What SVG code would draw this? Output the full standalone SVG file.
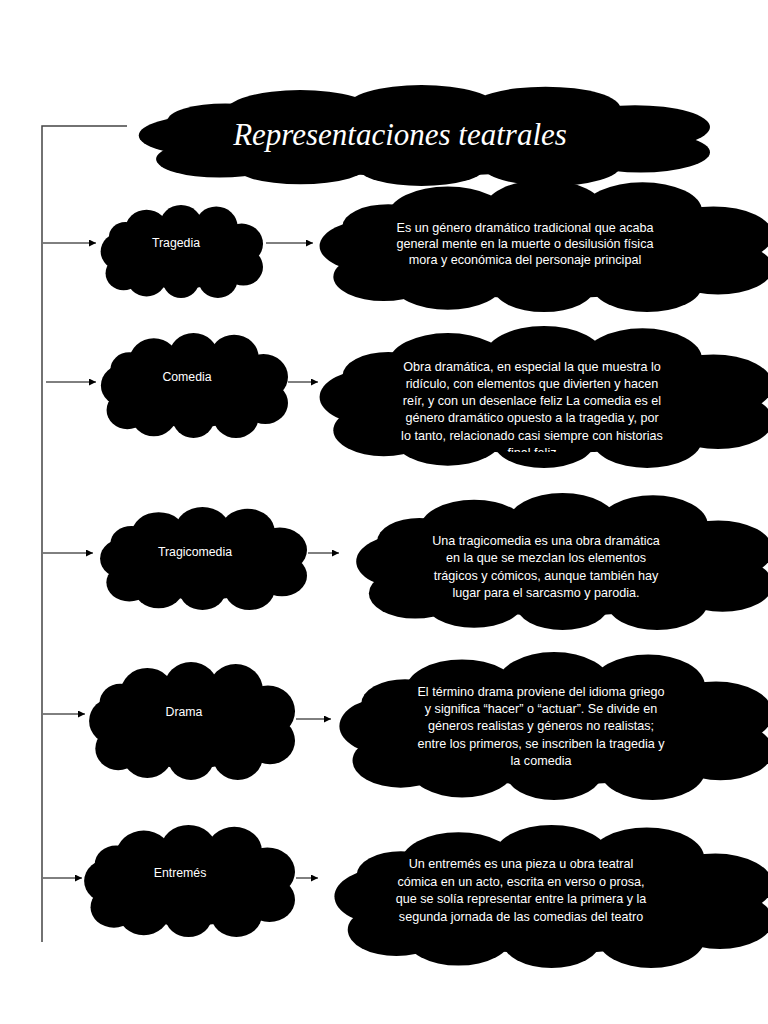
<svg xmlns="http://www.w3.org/2000/svg" xmlns:xlink="http://www.w3.org/1999/xlink" width="768" height="1024" viewBox="0 0 768 1024">
<style>
.lbl{font-family:"Liberation Sans",Arial,sans-serif;font-size:12.3px;fill:#fff;text-anchor:middle}
.desc{font-family:"Liberation Sans",Arial,sans-serif;font-size:12.6px;fill:#fff;text-anchor:middle}
.title{font-family:"Liberation Serif","DejaVu Serif",serif;font-style:italic;font-size:31px;fill:#fff;text-anchor:middle}
.conn line{stroke:#000;stroke-width:1}
.trunk{stroke:#444;stroke-width:1.5;fill:none}
</style>
<defs>
<symbol id="cloud" viewBox="0 0 200 120" preserveAspectRatio="none">
<g fill="#000">
<ellipse cx="100" cy="62" rx="84" ry="46"/>
<circle cx="58" cy="32" r="26"/>
<circle cx="100" cy="26" r="26"/>
<circle cx="143" cy="28" r="26"/>
<circle cx="174" cy="50" r="26"/>
<circle cx="176" cy="80" r="24"/>
<circle cx="145" cy="96" r="24"/>
<circle cx="100" cy="98" r="22"/>
<circle cx="58" cy="94" r="24"/>
<circle cx="26" cy="60" r="24"/>
<circle cx="30" cy="88" r="22"/>
<circle cx="32" cy="42" r="20"/>
</g>
</symbol>
<marker id="ah" viewBox="0 0 10 10" refX="10" refY="5" markerWidth="7" markerHeight="7" markerUnits="userSpaceOnUse" orient="auto">
<path d="M0,0 L10,5 L0,10 z" fill="#000"/>
</marker>
<clipPath id="clipC"><rect x="300" y="320" width="468" height="132"/></clipPath>
</defs>
<rect width="768" height="1024" fill="#fff"/>

<g id="connectors" class="conn">
<path class="trunk" d="M127,126 H42 V942"/>
<line x1="43" y1="243" x2="96" y2="243" marker-end="url(#ah)"/>
<line x1="266" y1="243" x2="313" y2="243" marker-end="url(#ah)"/>
<line x1="46" y1="382" x2="96" y2="382" marker-end="url(#ah)"/>
<line x1="288" y1="382" x2="318" y2="382" marker-end="url(#ah)"/>
<line x1="43" y1="553" x2="93" y2="553" marker-end="url(#ah)"/>
<line x1="308" y1="553" x2="339" y2="553" marker-end="url(#ah)"/>
<line x1="43" y1="714" x2="85" y2="714" marker-end="url(#ah)"/>
<line x1="296" y1="719" x2="331" y2="719" marker-end="url(#ah)"/>
<line x1="43" y1="878" x2="82" y2="878" marker-end="url(#ah)"/>
<line x1="296" y1="878" x2="318" y2="878" marker-end="url(#ah)"/>
</g>

<g id="title">
<use xlink:href="#cloud" href="#cloud" x="133" y="85" width="577" height="101"/>
<text class="title" x="400" y="145">Representaciones teatrales</text>
</g>

<g id="tragedia">
<use xlink:href="#cloud" href="#cloud" x="99" y="205" width="164" height="93"/>
<text class="lbl" x="176" y="247">Tragedia</text>
</g>
<g id="tragedia-desc">
<use xlink:href="#cloud" href="#cloud" x="315" y="180" width="458" height="132"/>
<text class="desc" x="525" y="232">Es un género dramático tradicional que acaba</text>
<text class="desc" x="525" y="248">general mente en la muerte o desilusión física</text>
<text class="desc" x="525" y="264">mora y económica del personaje principal</text>
</g>

<g id="comedia">
<use xlink:href="#cloud" href="#cloud" x="99" y="333" width="189" height="105"/>
<text class="lbl" x="187" y="381">Comedia</text>
</g>
<g id="comedia-desc">
<use xlink:href="#cloud" href="#cloud" x="315" y="326" width="458" height="142"/>
<text class="desc" x="532" y="371">Obra dramática, en especial la que muestra lo</text>
<text class="desc" x="532" y="388">ridículo, con elementos que divierten y hacen</text>
<text class="desc" x="532" y="405">reír, y con un desenlace feliz La comedia  es el</text>
<text class="desc" x="532" y="422">género dramático opuesto a la tragedia y, por</text>
<text class="desc" x="532" y="440">lo tanto, relacionado casi siempre con historias</text>
<text class="desc" x="532" y="457" clip-path="url(#clipC)">final feliz</text>
</g>

<g id="tragicomedia">
<use xlink:href="#cloud" href="#cloud" x="98" y="507" width="209" height="103"/>
<text class="lbl" x="195" y="556">Tragicomedia</text>
</g>
<g id="tragicomedia-desc">
<use xlink:href="#cloud" href="#cloud" x="352" y="493" width="421" height="137"/>
<text class="desc" x="546" y="545">Una tragicomedia es una obra dramática</text>
<text class="desc" x="546" y="562">en la que se mezclan los elementos</text>
<text class="desc" x="546" y="580">trágicos y cómicos, aunque también hay</text>
<text class="desc" x="546" y="597">lugar para el sarcasmo y parodia.</text>
</g>

<g id="drama">
<use xlink:href="#cloud" href="#cloud" x="87" y="662" width="208" height="118"/>
<text class="lbl" x="184" y="716">Drama</text>
</g>
<g id="drama-desc">
<use xlink:href="#cloud" href="#cloud" x="335" y="652" width="438" height="148"/>
<text class="desc" x="541" y="696">El término drama proviene del idioma griego</text>
<text class="desc" x="541" y="713">y significa “hacer” o “actuar”. Se divide en</text>
<text class="desc" x="541" y="730">géneros realistas y géneros no realistas;</text>
<text class="desc" x="541" y="748">entre los primeros, se inscriben la tragedia y</text>
<text class="desc" x="541" y="765">la comedia</text>
</g>

<g id="entremes">
<use xlink:href="#cloud" href="#cloud" x="82" y="825" width="213" height="112"/>
<text class="lbl" x="180" y="877">Entremés</text>
</g>
<g id="entremes-desc">
<use xlink:href="#cloud" href="#cloud" x="330" y="825" width="443" height="143"/>
<text class="desc" x="521" y="868">Un entremés es una pieza u obra teatral</text>
<text class="desc" x="521" y="886">cómica en un acto, escrita en verso o prosa,</text>
<text class="desc" x="521" y="903">que se solía representar entre la primera y la</text>
<text class="desc" x="521" y="921">segunda jornada de las comedias del teatro</text>
</g>
</svg>
